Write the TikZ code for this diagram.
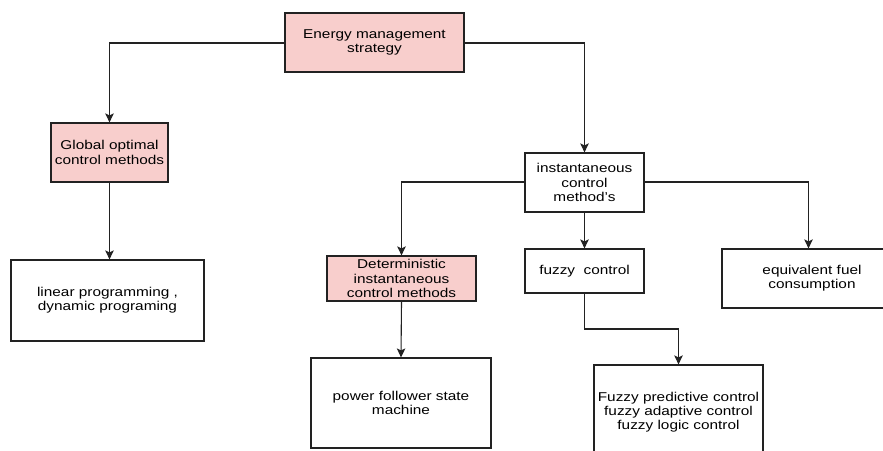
\documentclass[tikz,border=0pt]{standalone}
\usepackage{fontspec}
\setmainfont[FakeStretch=1.2]{Liberation Sans}
\usetikzlibrary{arrows.meta}
\definecolor{pinkfill}{HTML}{F8CECC}
\definecolor{edgegray}{HTML}{222222}
\tikzset{
  box/.style={draw=edgegray, line width=1.2pt, rectangle, align=center, inner sep=0pt,
    font=\fontsize{12.8}{14.3}\selectfont, text=black},
  pinkbox/.style={box, fill=pinkfill},
  whitebox/.style={box, fill=white},
  conn/.style={draw=edgegray, line width=1.1pt, -{Stealth[length=9pt,width=8.5pt,inset=2pt]}}
}
\begin{document}
\begin{tikzpicture}[x=1pt,y=-1pt]
\useasboundingbox (0,0) rectangle (883,450);
\clip (0,0) rectangle (883,450);
\fill[white] (0,0) rectangle (883,450);
% nodes
\node[pinkbox, minimum width=179, minimum height=59] (ems) at (374.5,42.5) {Energy management\\strategy};
\node[pinkbox, minimum width=117, minimum height=59] (gom) at (109.5,152.5) {Global optimal\\control methods};
\node[whitebox, minimum width=119, minimum height=59] (icm) at (584.5,182.5) {instantaneous\\control\\method's};
\node[whitebox, minimum width=193, minimum height=81] (lp) at (107.5,300.5) {linear programming ,\\dynamic programing};
\node[pinkbox, minimum width=149, minimum height=45] (dic) at (401.5,278.5) {Deterministic\\instantaneous\\control methods};
\node[whitebox, minimum width=119, minimum height=44] (fc) at (584.5,271) {fuzzy\ \ control};
\node[whitebox, minimum width=180, minimum height=59] (efc) at (812,278.5) {equivalent fuel\\consumption};
\node[whitebox, minimum width=180, minimum height=90] (pfs) at (401,403) {power follower state\\machine};
\node[whitebox, minimum width=169, minimum height=94] (fpc) at (678.5,412) {Fuzzy predictive control\\fuzzy adaptive control\\fuzzy logic control};
% connectors
\draw[conn] (ems.west |- 0,43) -| (gom.north);
\draw[conn] (ems.east |- 0,43) -| (icm.north);
\draw[conn] (gom.south) -- (lp.north -| gom.south);
\draw[conn] (icm.west |- 0,182) -| (dic.north);
\draw[conn] (icm.east |- 0,182) -| (efc.north -| 808.5,0);
\draw[conn] (icm.south) -- (fc.north);
\draw[conn] (dic.south) -- (pfs.north);
\coordinate (bend) at (584.5,329);
\draw[conn] (fc.south) -- (bend) -| (fpc.north);
\end{tikzpicture}
\end{document}
